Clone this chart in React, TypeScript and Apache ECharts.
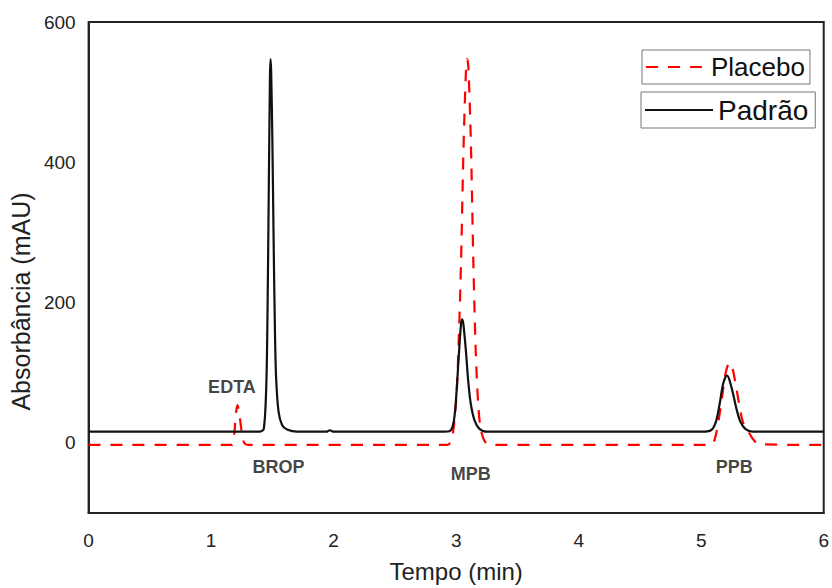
import React, { useEffect, useRef } from "react";
import * as echarts from "echarts";

// Padrão (standard) chromatogram: time (min) and absorbance (mAU)
const padraoTime = [0, 1.0, 1.40, 1.43, 1.45, 1.46, 1.47, 1.48, 1.485, 1.49, 1.50, 1.51, 1.52, 1.53, 1.55, 1.58, 1.62, 1.70, 1.94, 1.97, 2.00, 2.90, 2.95, 2.98, 3.00, 3.02, 3.04, 3.05, 3.06, 3.08, 3.10, 3.12, 3.15, 3.19, 3.25, 5.00, 5.08, 5.12, 5.15, 5.18, 5.21, 5.23, 5.26, 5.29, 5.32, 5.36, 5.42, 6.0];
const padraoAbs = [16, 16, 16, 20, 80, 180, 350, 520, 547, 530, 430, 290, 170, 95, 45, 25, 19, 16, 16, 18, 16, 16, 17, 30, 65, 120, 170, 176, 168, 130, 85, 55, 32, 20, 16, 16, 18, 30, 55, 85, 96, 90, 70, 47, 30, 20, 16, 16];

// Placebo chromatogram
const placeboTime = [0, 1.17, 1.19, 1.20, 1.215, 1.23, 1.25, 1.27, 1.30, 2.90, 2.94, 2.97, 3.00, 3.02, 3.04, 3.06, 3.08, 3.09, 3.10, 3.12, 3.14, 3.16, 3.18, 3.20, 3.23, 3.27, 5.00, 5.08, 5.11, 5.14, 5.17, 5.20, 5.23, 5.25, 5.28, 5.31, 5.34, 5.38, 5.42, 5.47, 6.0];
const placeboAbs = [-3, -3, 15, 38, 54, 42, 15, 0, -3, -3, -2, 10, 60, 140, 260, 420, 530, 547, 535, 430, 260, 130, 55, 20, 3, -3, -3, -3, 5, 30, 65, 100, 114, 110, 85, 55, 30, 18, 6, -2, -3];

// Peak annotations
const peakNames = ["EDTA", "BROP", "MPB", "PPB"];
const peakTime = [1.17, 1.55, 3.12, 5.27];
const peakAbs = [80, -34, -44, -34];

const xTicks = [0, 1, 2, 3, 4, 5, 6];
const yTicks = [0, 200, 400, 600];

const FONT = "Liberation Sans, Arial, sans-serif";

if (typeof document !== "undefined") {
  document.body.style.margin = "0";
  document.body.style.overflow = "hidden";
  document.documentElement.style.overflow = "hidden";
}

export default function App() {
  const ref = useRef<HTMLDivElement>(null);
  useEffect(() => {
    if (!ref.current) return;
    const chart = echarts.init(ref.current, null, { renderer: "svg" });
    const padrao = padraoTime.map((t, i) => [t, padraoAbs[i]]);
    const placebo = placeboTime.map((t, i) => [t, placeboAbs[i]]);
    const peaks = peakNames.map((n, i) => ({ name: n, value: [peakTime[i], peakAbs[i]] }));
    chart.setOption({
      animation: false,
      backgroundColor: "#fff",
      grid: {
        left: 88,
        right: 8,
        top: 22,
        bottom: 74,
        show: true,
        borderColor: "#222",
        borderWidth: 2,
      },
      legend: [
        {
          data: ["Placebo"],
          left: 642,
          top: 50,
          orient: "vertical",
          itemWidth: 60,
          itemHeight: 14,
          padding: [4, 5, 4, 3],
          borderColor: "#777",
          borderWidth: 1,
          itemStyle: { opacity: 0 },
          textStyle: { fontFamily: FONT, fontSize: 26, color: "#111" },
        },
        {
          data: ["Padrão"],
          left: 641,
          top: 92,
          orient: "vertical",
          itemWidth: 68,
          itemHeight: 14,
          padding: [4, 7, 4, 3],
          borderColor: "#777",
          borderWidth: 1,
          itemStyle: { opacity: 0 },
          textStyle: { fontFamily: FONT, fontSize: 28, color: "#111" },
        },
      ],
      xAxis: {
        type: "value",
        min: 0,
        max: 6,
        interval: 1,
        name: "Tempo (min)",
        nameLocation: "middle",
        nameGap: 46,
        nameTextStyle: { fontFamily: FONT, fontSize: 24, color: "#222" },
        axisLine: { show: true, onZero: false, lineStyle: { color: "#222", width: 2 } },
        axisTick: { show: false },
        splitLine: { show: false },
        axisLabel: {
          fontFamily: FONT,
          fontSize: 19,
          color: "#222",
          margin: 18,
          formatter: (v: number) => (xTicks.includes(v) ? String(v) : ""),
        },
      },
      yAxis: {
        type: "value",
        min: -100,
        max: 600,
        interval: 100,
        name: "Absorbância (mAU)",
        nameLocation: "middle",
        nameGap: 52,
        nameTextStyle: { fontFamily: FONT, fontSize: 25, color: "#222", padding: [0, 68, 0, 0] },
        axisLine: { show: true, onZero: false, lineStyle: { color: "#222", width: 2 } },
        axisTick: { show: false },
        splitLine: { show: false },
        axisLabel: {
          fontFamily: FONT,
          fontSize: 19,
          color: "#222",
          margin: 13,
          formatter: (v: number) => (yTicks.includes(v) ? String(v) : ""),
        },
      },
      series: [
        {
          name: "Placebo",
          type: "line",
          data: placebo,
          symbol: "none",
          smooth: 0.3,
          z: 2,
          itemStyle: { color: "#ff0000" },
          lineStyle: { color: "#ff0000", width: 2.2, type: [12, 10] },
        },
        {
          name: "Padrão",
          type: "line",
          data: padrao,
          symbol: "none",
          smooth: 0.3,
          z: 3,
          itemStyle: { color: "#111" },
          lineStyle: { color: "#111", width: 2.2 },
        },
        {
          name: "peaks",
          type: "scatter",
          data: peaks,
          symbolSize: 0,
          z: 4,
          label: {
            show: true,
            position: "inside",
            formatter: (p: any) => p.name,
            fontFamily: FONT,
            fontSize: 18,
            fontWeight: "bold",
            color: "#111",
          },
        },
      ],
    });
    return () => chart.dispose();
  }, []);
  return <div ref={ref} style={{ width: 832, height: 588 }} />;
}
